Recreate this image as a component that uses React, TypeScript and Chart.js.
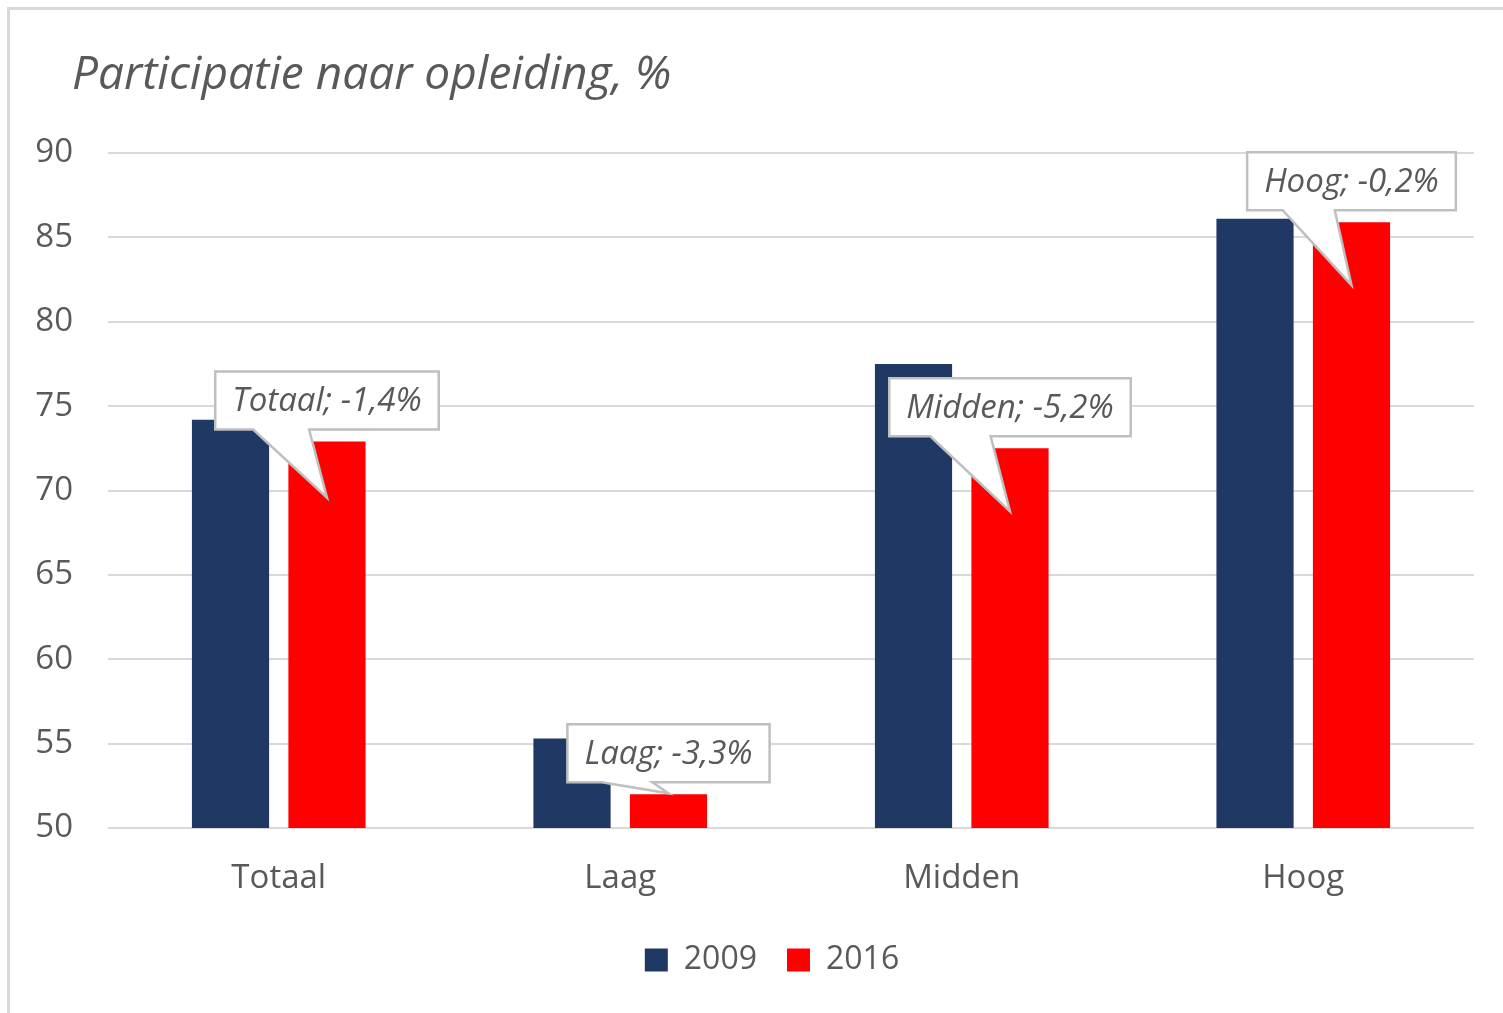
import { useEffect, useRef } from "react";
import { Chart, registerables } from "chart.js";

Chart.register(...registerables);

const categories = ["Totaal", "Laag", "Midden", "Hoog"];
const seriesNames = ["2009", "2016"];
const values2009 = [74.2, 55.3, 77.5, 86.1];
const values2016 = [72.9, 52.0, 72.5, 85.9];
const calloutLabels = ["Totaal; -1,4%", "Laag; -3,3%", "Midden; -5,2%", "Hoog; -0,2%"];
const yMin = 50;
const yMax = 90;
const yStep = 5;
const titleText = "Participatie naar opleiding, %";

// styling / placement of the callouts (pixels below the 2016 bar top where the pointer ends)
const calloutTipDepth = [56, -1, 63, 63];

const TEXT = "#595959";
const GRID = "#d9d9d9";
const FONT = "'Open Sans', Lato, sans-serif";
const LEGEND_SHIFT = -19;

const framePlugin = {
  id: "frame",
  beforeDraw(chart: any) {
    const ctx = chart.ctx as CanvasRenderingContext2D;
    ctx.save();
    ctx.fillStyle = "#ffffff";
    ctx.fillRect(0, 0, chart.width, chart.height);
    ctx.strokeStyle = GRID;
    ctx.lineWidth = 3;
    ctx.beginPath();
    ctx.moveTo(7, 8.5);
    ctx.lineTo(chart.width, 8.5);
    ctx.moveTo(8.5, 7);
    ctx.lineTo(8.5, chart.height);
    ctx.stroke();
    ctx.fillStyle = TEXT;
    ctx.font = `italic 46px ${FONT}`;
    ctx.textAlign = "left";
    ctx.textBaseline = "alphabetic";
    ctx.fillText(titleText, 72, 89);
    ctx.restore();
  },
};

const legendShiftPlugin = {
  id: "legendShift",
  afterLayout(chart: any) {
    if (chart.legend) {
      chart.legend.left += LEGEND_SHIFT;
      chart.legend.right += LEGEND_SHIFT;
    }
  },
};

const calloutPlugin = {
  id: "callouts",
  afterDatasetsDraw(chart: any) {
    const ctx = chart.ctx as CanvasRenderingContext2D;
    const meta = chart.getDatasetMeta(1);
    ctx.save();
    ctx.font = `italic 33px ${FONT}`;
    meta.data.forEach((bar: any, i: number) => {
      const text = calloutLabels[i];
      const tw = ctx.measureText(text).width;
      const w = tw + 34;
      const h = 58;
      const cx = bar.x;
      const bottom = bar.y - 12;
      const top = bottom - h;
      const left = cx - w / 2;
      const right = cx + w / 2;
      const tipY = bar.y + calloutTipDepth[i];
      const bl = left + 0.17 * w;
      const br = left + 0.42 * w;
      ctx.beginPath();
      ctx.moveTo(left, top);
      ctx.lineTo(right, top);
      ctx.lineTo(right, bottom);
      ctx.lineTo(br, bottom);
      ctx.lineTo(cx, tipY);
      ctx.lineTo(bl, bottom);
      ctx.lineTo(left, bottom);
      ctx.closePath();
      ctx.fillStyle = "#ffffff";
      ctx.fill();
      ctx.lineWidth = 2.5;
      ctx.lineJoin = "miter";
      ctx.strokeStyle = "#bfbfbf";
      ctx.stroke();
      ctx.fillStyle = TEXT;
      ctx.textAlign = "center";
      ctx.textBaseline = "middle";
      ctx.fillText(text, cx, (top + bottom) / 2 + 1);
    });
    ctx.restore();
  },
};

export default function App() {
  const ref = useRef<HTMLCanvasElement>(null);

  useEffect(() => {
    if (!ref.current) return;
    const chart = new Chart(ref.current, {
      type: "bar",
      data: {
        labels: categories,
        datasets: [
          {
            label: seriesNames[0],
            data: values2009,
            backgroundColor: "#203864",
            categoryPercentage: 0.565,
            barPercentage: 0.8,
          },
          {
            label: seriesNames[1],
            data: values2016,
            backgroundColor: "#ff0000",
            categoryPercentage: 0.565,
            barPercentage: 0.8,
          },
        ],
      },
      options: {
        responsive: false,
        animation: false,
        devicePixelRatio: 1,
        layout: { padding: { left: 0, top: 153, right: 29, bottom: 27 } },
        plugins: {
          title: { display: false },
          tooltip: { enabled: false },
          legend: {
            position: "bottom",
            fullSize: false,
            labels: {
              boxWidth: 23,
              boxHeight: 23,
              padding: 30,
              color: TEXT,
              font: { family: FONT, size: 32 },
            },
          },
        },
        scales: {
          x: {
            grid: { display: false, drawTicks: false },
            border: { display: false },
            ticks: { color: TEXT, font: { family: FONT, size: 33 }, padding: 31 },
            afterFit(scale: any) {
              scale.height = 86;
            },
          },
          y: {
            min: yMin,
            max: yMax,
            grid: { color: GRID, lineWidth: 2, drawTicks: false },
            border: { display: false },
            ticks: {
              stepSize: yStep,
              color: TEXT,
              font: { family: FONT, size: 33 },
              padding: 35,
            },
            afterFit(scale: any) {
              scale.width = 108;
            },
          },
        },
      },
      plugins: [framePlugin, legendShiftPlugin, calloutPlugin],
    });
    const fonts: any = (document as any).fonts;
    if (fonts && fonts.load) {
      Promise.all([
        fonts.load(`italic 46px "Open Sans"`),
        fonts.load(`33px "Open Sans"`),
      ]).then(() => chart.update()).catch(() => {});
    }
    return () => chart.destroy();
  }, []);

  return (
    <div style={{ position: "absolute", left: 0, top: 0, width: 1503, height: 1013, background: "#fff" }}>
      <canvas ref={ref} width={1503} height={1013} style={{ display: "block" }} />
    </div>
  );
}
